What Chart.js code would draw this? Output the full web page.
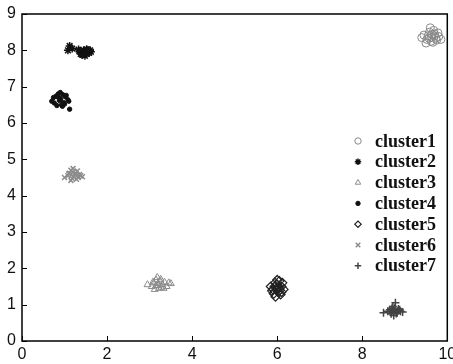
<!DOCTYPE html>
<html>
<head>
<meta charset="utf-8">
<script src="https://cdn.jsdelivr.net/npm/chart.js@4.4.1/dist/chart.umd.min.js"></script>
<style>
  html, body { margin: 0; padding: 0; background: #fff; }
  #wrap { width: 453px; height: 364px; }
</style>
</head>
<body>
<div id="wrap"><canvas id="scatter"></canvas></div>
<script>
// values
const xTicks = [0, 2, 4, 6, 8, 10];
const yTicks = [0, 1, 2, 3, 4, 5, 6, 7, 8, 9];
const labels = ['cluster1', 'cluster2', 'cluster3', 'cluster4', 'cluster5', 'cluster6', 'cluster7'];

const c1x = [9.45, 9.52, 9.58, 9.63, 9.7, 9.75, 9.8, 9.5, 9.62, 9.68, 9.73, 9.55, 9.85, 9.6, 9.66, 9.4, 9.78, 9.57, 9.7, 9.64];
const c1y = [8.42, 8.3, 8.5, 8.36, 8.45, 8.28, 8.38, 8.2, 8.25, 8.55, 8.33, 8.4, 8.3, 8.62, 8.22, 8.35, 8.48, 8.33, 8.4, 8.44];

const c2x = [1.12, 1.08, 1.18, 1.35, 1.4, 1.45, 1.5, 1.55, 1.6, 1.38, 1.48, 1.52, 1.43, 1.58, 1.33, 1.47, 1.62, 1.41, 1.5, 1.55];
const c2y = [8.12, 8.0, 8.05, 7.98, 7.92, 8.0, 7.95, 7.98, 8.0, 7.9, 7.85, 8.03, 7.96, 7.93, 8.02, 7.97, 7.96, 7.88, 7.9, 8.01];

const c3x = [2.95, 3.05, 3.1, 3.15, 3.2, 3.25, 3.3, 3.35, 3.4, 3.5, 3.18, 3.22, 3.28, 3.12, 3.08, 3.33, 3.26, 3.2, 3.45, 3.15];
const c3y = [1.55, 1.5, 1.6, 1.52, 1.58, 1.65, 1.55, 1.62, 1.5, 1.58, 1.75, 1.45, 1.48, 1.42, 1.62, 1.45, 1.7, 1.53, 1.6, 1.68];

const c4x = [0.7, 0.8, 0.85, 0.9, 0.96, 1.02, 1.08, 0.76, 0.88, 0.98, 1.1, 0.82, 0.93, 1.04, 0.86, 0.95, 1.12, 0.91, 1.0, 0.74];
const c4y = [6.6, 6.74, 6.8, 6.84, 6.78, 6.72, 6.64, 6.55, 6.62, 6.56, 6.6, 6.48, 6.5, 6.76, 6.7, 6.46, 6.38, 6.66, 6.52, 6.7];

const c5x = [5.85, 5.9, 5.95, 6.0, 6.05, 6.1, 6.15, 5.92, 6.02, 6.08, 5.98, 6.12, 5.88, 6.04, 5.96, 6.0, 6.06, 5.94, 6.1, 6.0];
const c5y = [1.5, 1.42, 1.6, 1.55, 1.65, 1.5, 1.42, 1.3, 1.35, 1.28, 1.45, 1.6, 1.38, 1.48, 1.22, 1.68, 1.4, 1.5, 1.35, 1.4];

const c6x = [1.0, 1.08, 1.12, 1.15, 1.2, 1.25, 1.3, 1.35, 1.42, 1.18, 1.22, 1.28, 1.1, 1.32, 1.2, 1.26, 1.38, 1.15, 1.24, 1.3];
const c6y = [4.5, 4.55, 4.62, 4.7, 4.75, 4.6, 4.55, 4.58, 4.52, 4.48, 4.52, 4.45, 4.6, 4.5, 4.65, 4.62, 4.55, 4.42, 4.58, 4.68];

const c7x = [8.5, 8.6, 8.65, 8.7, 8.75, 8.8, 8.85, 8.9, 8.95, 8.68, 8.72, 8.78, 8.82, 8.74, 8.7, 8.88, 8.66, 8.8, 8.76, 8.84];
const c7y = [0.78, 0.82, 0.86, 0.9, 0.85, 0.8, 0.88, 0.82, 0.8, 0.75, 0.95, 1.05, 0.78, 0.7, 0.84, 0.86, 0.8, 0.76, 0.9, 0.83];

const pts = (xs, ys) => xs.map((x, i) => ({ x, y: ys[i] }));

// marker look per cluster
const styles = [
    { pointStyle: 'circle',   color: '#8a8a8a', fill: 'rgba(0,0,0,0)', r: 4,   lw: 1 },
    { pointStyle: 'star',     color: '#111',    fill: 'rgba(0,0,0,0)', r: 4,   lw: 1.5 },
    { pointStyle: 'triangle', color: '#8c8c8c', fill: 'rgba(0,0,0,0)', r: 4,   lw: 1 },
    { pointStyle: 'circle',   color: '#111',    fill: '#111',          r: 2.2, lw: 1 },
    { pointStyle: 'rectRot',  color: '#222',    fill: 'rgba(0,0,0,0)', r: 4.5, lw: 1.2 },
    { pointStyle: 'crossRot', color: '#8c8c8c', fill: 'rgba(0,0,0,0)', r: 3.5, lw: 1.5 },
    { pointStyle: 'cross',    color: '#444',    fill: 'rgba(0,0,0,0)', r: 4,   lw: 1.5 }
];
const series = [pts(c1x, c1y), pts(c2x, c2y), pts(c3x, c3y), pts(c4x, c4y), pts(c5x, c5y), pts(c6x, c6y), pts(c7x, c7y)];

const datasets = series.map((data, i) => ({
    label: labels[i],
    data,
    pointStyle: styles[i].pointStyle,
    borderColor: styles[i].color,
    backgroundColor: styles[i].fill,
    pointRadius: styles[i].r,
    pointBorderWidth: styles[i].lw,
    pointHoverRadius: styles[i].r
}));

// box frame, inward ticks and the legend inside the plot
const framePlugin = {
    id: 'frame',
    afterDraw(chart) {
        const { ctx, chartArea: a, scales } = chart;
        ctx.save();
        ctx.strokeStyle = '#000';
        ctx.lineWidth = 1.5;
        ctx.strokeRect(a.left, a.top, a.right - a.left, a.bottom - a.top);

        ctx.lineWidth = 1;
        ctx.beginPath();
        xTicks.forEach(v => {
            const px = Math.round(scales.x.getPixelForValue(v)) + 0.5;
            ctx.moveTo(px, a.bottom);
            ctx.lineTo(px, a.bottom - 5);
        });
        yTicks.forEach(v => {
            const py = Math.round(scales.y.getPixelForValue(v)) + 0.5;
            ctx.moveTo(a.left, py);
            ctx.lineTo(a.left + 5, py);
        });
        ctx.stroke();

        // legend
        const lx = 358, ly = 141, step = 20.8;
        ctx.font = 'bold 18px "Liberation Serif", "Times New Roman", serif';
        ctx.textBaseline = 'middle';
        labels.forEach((t, i) => {
            const s = styles[i];
            const y = ly + i * step;
            ctx.strokeStyle = s.color;
            ctx.fillStyle = s.fill;
            ctx.lineWidth = s.lw;
            Chart.helpers.drawPoint(ctx, { pointStyle: s.pointStyle, radius: Math.min(s.r, 3.2), borderWidth: s.lw }, lx, y);
            ctx.fillStyle = '#111';
            ctx.fillText(t, lx + 17, y + 1);
        });
        ctx.restore();
    }
};

const tickFont = { family: '"Liberation Sans", Arial, sans-serif', size: 16 };

new Chart(document.getElementById('scatter'), {
    type: 'scatter',
    data: { datasets },
    options: {
        responsive: true,
        maintainAspectRatio: false,
        animation: false,
        layout: { padding: { top: 14, right: 5, left: 0, bottom: 0 } },
        plugins: { legend: { display: false }, tooltip: { enabled: false } },
        scales: {
            x: {
                type: 'linear',
                min: 0, max: 10,
                grid: { display: false, drawTicks: false },
                border: { display: false },
                afterBuildTicks: s => { s.ticks = xTicks.map(v => ({ value: v })); },
                ticks: { color: '#111', font: tickFont, padding: 4, maxRotation: 0 },
                afterFit: s => { s.height = 23; s.paddingLeft = 0; s.paddingRight = 0; }
            },
            y: {
                type: 'linear',
                min: 0, max: 9,
                grid: { display: false, drawTicks: false },
                border: { display: false },
                afterBuildTicks: s => { s.ticks = yTicks.map(v => ({ value: v })); },
                ticks: { color: '#111', font: tickFont, padding: 6 },
                afterFit: s => { s.width = 22; s.paddingTop = 0; s.paddingBottom = 0; }
            }
        }
    },
    plugins: [framePlugin]
});
</script>
</body>
</html>
